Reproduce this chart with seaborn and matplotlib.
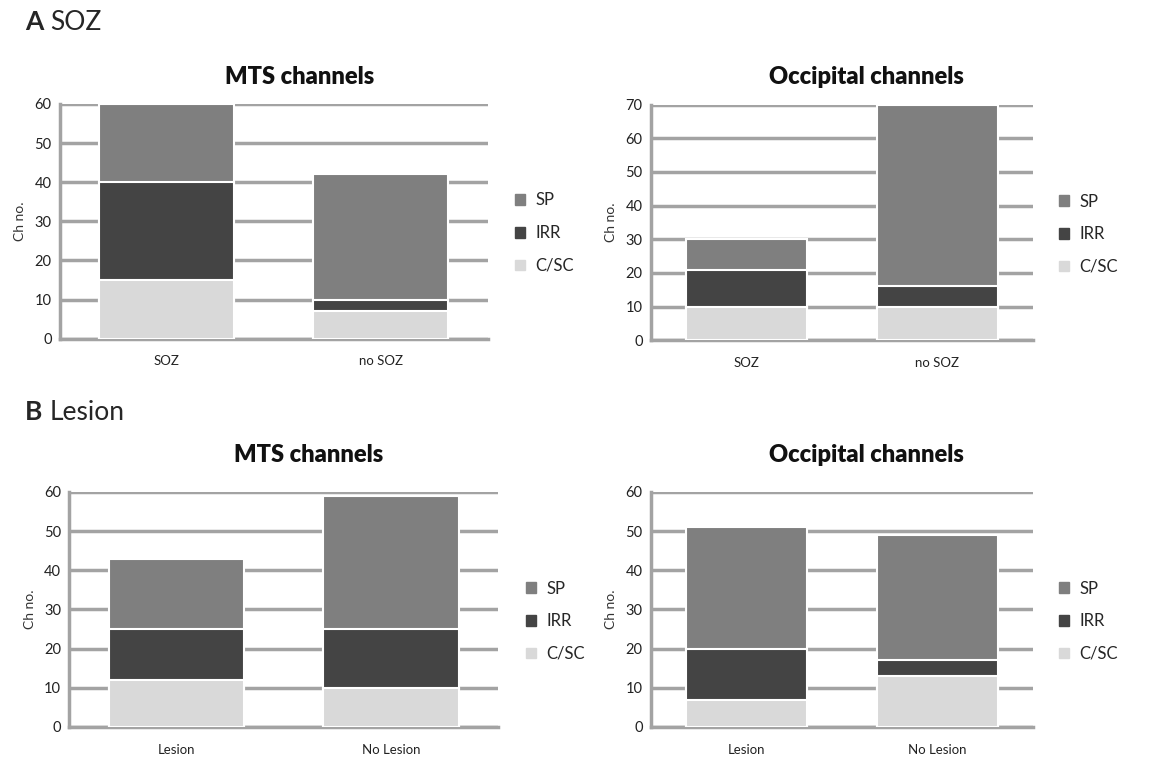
import numpy as np
import pandas as pd
import matplotlib
matplotlib.use('Agg')
import matplotlib.pyplot as plt
import seaborn as sns

# --- Data (channel counts) ---
soz_groups = ['SOZ', 'no SOZ']
lesion_groups = ['Lesion', 'No Lesion']

mts_soz_csc = [15, 7]
mts_soz_irr = [25, 3]
mts_soz_sp = [20, 32]

occ_soz_csc = [10, 10]
occ_soz_irr = [11, 6]
occ_soz_sp = [9, 54]

mts_les_csc = [12, 10]
mts_les_irr = [13, 15]
mts_les_sp = [18, 34]

occ_les_csc = [7, 13]
occ_les_irr = [13, 4]
occ_les_sp = [31, 32]

col_sp = '#7f7f7f'
col_irr = '#444444'
col_csc = '#d9d9d9'
grid_col = '#a3a3a3'

sns.set_theme(style='white')
plt.rcParams['font.family'] = ['Lato', 'DejaVu Sans']


def stacked(ax, groups, csc, irr, sp, ymax, step):
    df = pd.DataFrame({'group': groups, 'csc': csc, 'irr': irr, 'sp': sp})
    df['lvl1'] = df['csc']
    df['lvl2'] = df['csc'] + df['irr']
    df['lvl3'] = df['lvl2'] + df['sp']
    # draw from top down so each layer sits on the one below
    for col, c in [('lvl3', col_sp), ('lvl2', col_irr), ('lvl1', col_csc)]:
        sns.barplot(data=df, x='group', y=col, color=c, width=0.63,
                    edgecolor='white', linewidth=1.5, ax=ax, zorder=3)
    ax.set_ylim(0, ymax)
    ax.set_yticks(np.arange(0, ymax + 1, step))
    ax.yaxis.grid(True, color=grid_col, linewidth=2.5, zorder=0)
    ax.set_axisbelow(True)
    for s in ['top', 'right']:
        ax.spines[s].set_visible(False)
    for s in ['left', 'bottom']:
        ax.spines[s].set_color(grid_col)
        ax.spines[s].set_linewidth(2.5)
    ax.tick_params(axis='both', length=0, colors='#222222')
    ax.tick_params(axis='y', labelsize=10.5, pad=6)
    ax.tick_params(axis='x', labelsize=9.5, pad=12)
    ax.set_xlabel('')
    ax.set_ylabel('Ch no.', fontsize=10, color='#333333', labelpad=6)
    handles = [plt.Rectangle((0, 0), 1, 1, color=c) for c in [col_sp, col_irr, col_csc]]
    ax.legend(handles, ['SP', 'IRR', 'C/SC'], loc='center left',
              bbox_to_anchor=(1.03, 0.45), frameon=False, fontsize=12,
              handlelength=0.6, handleheight=0.6, labelspacing=1.0,
              handletextpad=0.6)


fig = plt.figure(figsize=(11.75, 7.58), dpi=100)
ax1 = fig.add_axes([0.051, 0.553, 0.364, 0.310])
ax2 = fig.add_axes([0.554, 0.551, 0.325, 0.311])
ax3 = fig.add_axes([0.059, 0.041, 0.365, 0.310])
ax4 = fig.add_axes([0.554, 0.041, 0.325, 0.310])

stacked(ax1, soz_groups, mts_soz_csc, mts_soz_irr, mts_soz_sp, 60, 10)
stacked(ax2, soz_groups, occ_soz_csc, occ_soz_irr, occ_soz_sp, 70, 10)
stacked(ax3, lesion_groups, mts_les_csc, mts_les_irr, mts_les_sp, 60, 10)
stacked(ax4, lesion_groups, occ_les_csc, occ_les_irr, occ_les_sp, 60, 10)

W, H = 1175, 758
title_kw = dict(fontsize=17, fontweight='heavy', ha='center', va='center', color='#111111')
fig.text(300 / W, 1 - 77 / H, 'MTS channels', **title_kw)
fig.text(866 / W, 1 - 77 / H, 'Occipital channels', **title_kw)
fig.text(309 / W, 1 - 455 / H, 'MTS channels', **title_kw)
fig.text(866 / W, 1 - 455 / H, 'Occipital channels', **title_kw)

fig.text(25 / W, 1 - 22 / H, 'A', fontsize=19, fontweight='bold', va='center')
fig.text(50 / W, 1 - 22 / H, 'SOZ', fontsize=19, va='center')
fig.text(25 / W, 1 - 412 / H, 'B', fontsize=19, fontweight='bold', va='center')
fig.text(50 / W, 1 - 412 / H, 'Lesion', fontsize=19, va='center')

plt.savefig('out.png', dpi=100)
plt.close()
